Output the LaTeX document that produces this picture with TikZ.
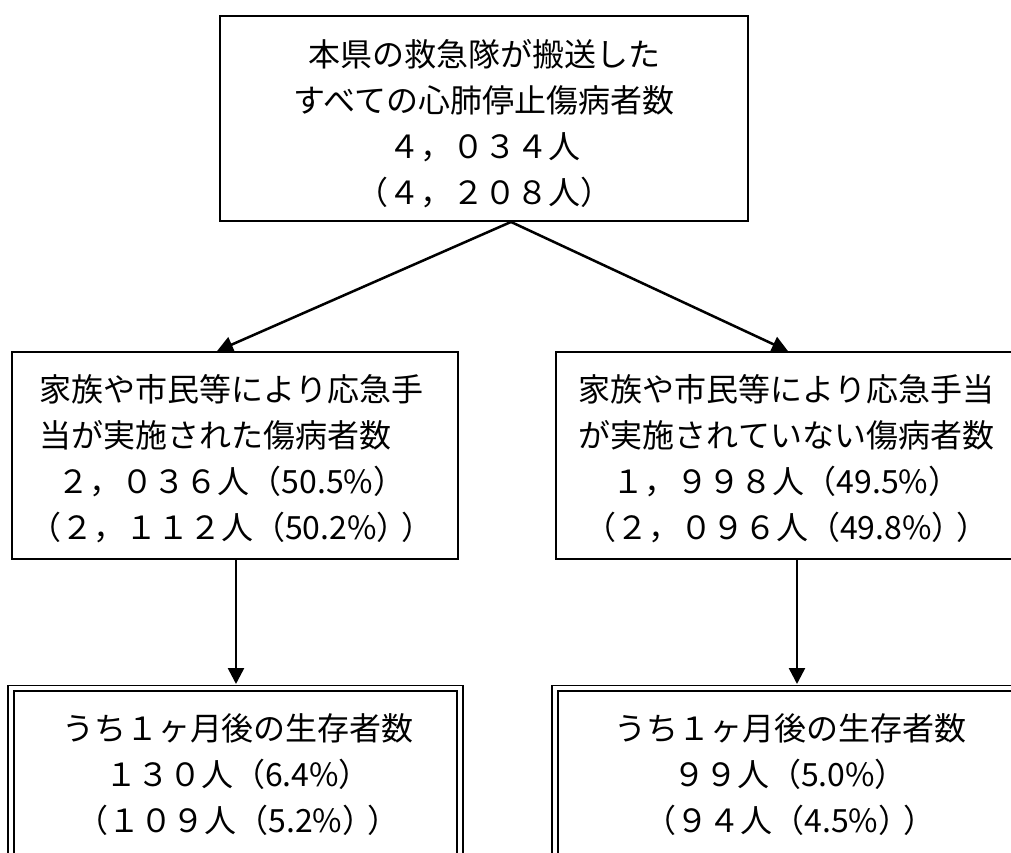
\documentclass[tikz,border=0pt]{standalone}
\usepackage{fontspec}
\setmainfont{Noto Sans CJK JP}
\usetikzlibrary{arrows.meta}
\newcommand\pp{）\kern-0.22em）}
\tikzset{
  box/.style={draw, line width=1.4pt, inner sep=0pt},
  dbox/.style={draw, double, double distance=2.8pt, line width=1.3pt, inner sep=0pt},
  txt/.style={inner sep=0pt, align=center, font=\fontsize{24pt}{34.5pt}\selectfont},
  arr/.style={line width=1.9pt, -{Triangle[length=12pt,width=12pt]}},
}
\begin{document}
\begin{tikzpicture}[x=0.75pt,y=-0.75pt]
\useasboundingbox (0,0) rectangle (1011,853);
\clip (0,0) rectangle (1011,853);
% boxes
\node[box, minimum width=396pt, minimum height=153.75pt] (top) at (484,118.5) {};
\node[box, minimum width=334.5pt, minimum height=155.25pt] (lm) at (235,455.5) {};
\node[box, minimum width=345pt, minimum height=155.25pt] (rm) at (786,455.5) {};
\node[dbox, minimum width=336.75pt, minimum height=130pt] (lb) at (235.5,775) {};
\node[dbox, minimum width=352.5pt, minimum height=130pt] (rb) at (790,775) {};
% texts
\node[txt] (ttop) at (484,124) {本県の救急隊が搬送した\\すべての心肺停止傷病者数\\４，０３４人\\（４，２０８人）};
\node[txt] (tlm) at (231.5,459) {家族や市民等により応急手\\当が実施された傷病者数　\\２，０３６人（50.5\%）\\（２，１１２人（50.2\%\pp};
\node[txt] (trm) at (786.5,459) {家族や市民等により応急手当\\が実施されていない傷病者数\\１，９９８人（49.5\%）\\（２，０９６人（49.8\%\pp};
\node[txt] (tlb) at (238,775) {うち１ヶ月後の生存者数\\１３０人（6.4\%）\\（１０９人（5.2\%\pp};
\node[txt] (trb) at (790,775) {うち１ヶ月後の生存者数\\９９人（5.0\%）\\（９４人（4.5\%\pp};
% connectors
\coordinate (j) at ([xshift=20.25pt]top.south);
\draw[arr] (j) -- ([xshift=-13.5pt]lm.north);
\draw[arr] (j) -- ([xshift=1.5pt]rm.north);
\draw[arr, shorten >=2.6pt] ([xshift=0.75pt]lm.south) -- ([xshift=0.375pt]lb.north);
\draw[arr, shorten >=2.6pt] ([xshift=8.25pt]rm.south) -- ([xshift=5.25pt]rb.north);
\end{tikzpicture}
\end{document}
